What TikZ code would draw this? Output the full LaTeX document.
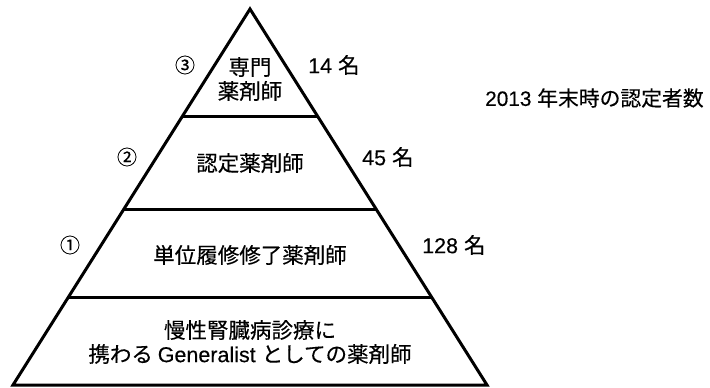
\documentclass[tikz,border=0pt]{standalone}
\usepackage{fontspec}
\setmainfont{Noto Sans CJK JP}[FakeBold=0.3]
\newfontfamily\latf{Liberation Sans}[FakeBold=0.3]
\newcommand{\lat}[1]{{\latf #1}}
\usetikzlibrary{calc}
\tikzset{
  outline/.style={line width=3pt, line join=miter},
  tierlbl/.style={font=\fontsize{21.5}{24}\selectfont, align=center, inner sep=0pt},
  numlbl/.style={font=\fontsize{21.5}{24}\selectfont, inner sep=0pt},
  notelbl/.style={font=\fontsize{20.8}{24}\selectfont, inner sep=0pt},
  circlbl/.style={font=\fontsize{20}{22}\selectfont, inner sep=0pt},
}
\begin{document}
\begin{tikzpicture}[x=1pt,y=-1pt]
\useasboundingbox (0,0) rectangle (710,388);
\coordinate (apex) at (250,9);
\coordinate (bl) at (13,385);
\coordinate (br) at (487,385);
\draw[outline] (bl) -- (apex) -- (br) -- cycle;
\coordinate (l1) at ($(apex)!0.287!(bl)$);
\coordinate (r1) at ($(apex)!0.287!(br)$);
\coordinate (l2) at ($(apex)!0.532!(bl)$);
\coordinate (r2) at ($(apex)!0.532!(br)$);
\coordinate (l3) at ($(apex)!0.766!(bl)$);
\coordinate (r3) at ($(apex)!0.766!(br)$);
\draw[outline] (l1) -- (r1);
\draw[outline] (l2) -- (r2);
\draw[outline] (l3) -- (r3);
% tier labels
\node[tierlbl] (t3) at (250,79) {専門\\薬剤師};
\node[tierlbl] (t2) at (250,163) {認定薬剤師};
\node[tierlbl] (t1) at (250,255) {単位履修修了薬剤師};
\node[tierlbl] (t0) at (250,342) {慢性腎臓病診療に\\携わる \lat{Generalist }としての薬剤師};
% circled numbers
\node[circlbl] (c3) at (185,65) {③};
\node[circlbl] (c2) at (127,157) {②};
\node[circlbl] (c1) at (70,245) {①};
% counts
\node[numlbl, anchor=west] (n3) at (308,65) {\lat{14 }名};
\node[numlbl, anchor=west] (n2) at (362,157) {\lat{45 }名};
\node[numlbl, anchor=west] (n1) at (422,245) {\lat{128 }名};
% note
\node[notelbl, anchor=west] (note) at (485,98) {\lat{2013 }年末時の認定者数};
\end{tikzpicture}
\end{document}
